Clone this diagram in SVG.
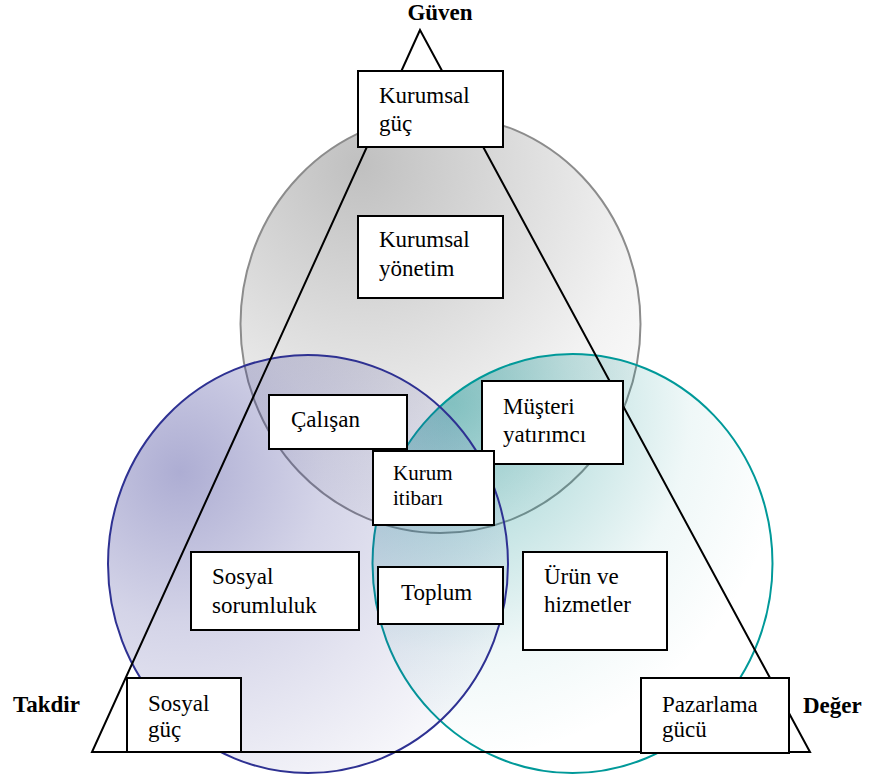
<svg xmlns="http://www.w3.org/2000/svg" width="869" height="780" viewBox="0 0 869 780">
<defs>
<radialGradient id="gGray" cx="0.3" cy="0.12" r="1.0" fx="0.3" fy="0.12">
<stop offset="0" stop-color="#c0c0c0"/>
<stop offset="0.35" stop-color="#d9d9d9"/>
<stop offset="0.7" stop-color="#f2f2f2"/>
<stop offset="1" stop-color="#ffffff"/>
</radialGradient>
<radialGradient id="gTeal" cx="0.2" cy="0.12" r="0.85" fx="0.2" fy="0.12">
<stop offset="0" stop-color="#1a9595" stop-opacity="0.5"/>
<stop offset="0.35" stop-color="#1a9595" stop-opacity="0.27"/>
<stop offset="0.7" stop-color="#1a9595" stop-opacity="0.07"/>
<stop offset="1" stop-color="#1a9595" stop-opacity="0"/>
</radialGradient>
<radialGradient id="gBlue" cx="0.18" cy="0.28" r="0.9" fx="0.18" fy="0.28">
<stop offset="0" stop-color="#3c3c96" stop-opacity="0.42"/>
<stop offset="0.4" stop-color="#3c3c96" stop-opacity="0.22"/>
<stop offset="1" stop-color="#3c3c96" stop-opacity="0.03"/>
</radialGradient>
<style>
.box{fill:#ffffff;stroke:#000000;stroke-width:2}
.t{font-family:"Liberation Serif","Times New Roman",serif;font-size:23px;fill:#000000}
.s{font-size:21px}
.b{font-family:"Liberation Serif","Times New Roman",serif;font-size:23px;font-weight:bold;fill:#000000}
</style>
</defs>
<g id="circles">
<ellipse id="circle-gray" cx="440.5" cy="324" rx="200" ry="209" fill="url(#gGray)" stroke="#8c8c8c" stroke-width="2"/>
<ellipse id="circle-teal" cx="572.5" cy="563.5" rx="200" ry="209.5" fill="url(#gTeal)" stroke="#009999" stroke-width="2"/>
<ellipse id="circle-blue" cx="308" cy="564" rx="200" ry="209" fill="url(#gBlue)" stroke="#2e3192" stroke-width="2"/>
</g>
<g id="connectors">
<polygon points="420,30 92,752 810,752" fill="none" stroke="#000000" stroke-width="2"/>
</g>
<g id="label-guven"><text class="b" x="440" y="20" text-anchor="middle">Güven</text></g>
<g id="label-takdir"><text class="b" x="13" y="712">Takdir</text></g>
<g id="label-deger"><text class="b" x="803" y="713">Değer</text></g>
<g id="kurumsal-guc"><rect class="box" x="358" y="71" width="145" height="76"/><text class="t" x="379" y="103">Kurumsal</text><text class="t" x="379" y="131">güç</text></g>
<g id="kurumsal-yonetim"><rect class="box" x="358" y="216" width="145" height="82"/><text class="t" x="379" y="247">Kurumsal</text><text class="t" x="379" y="276">yönetim</text></g>
<g id="calisan"><rect class="box" x="269" y="395" width="138" height="54"/><text class="t" x="291" y="427">Çalışan</text></g>
<g id="musteri"><rect class="box" x="482" y="381" width="141" height="83"/><text class="t" x="503" y="414">Müşteri</text><text class="t" x="503" y="442">yatırımcı</text></g>
<g id="kurum-itibari"><rect class="box" x="373" y="451" width="121" height="74"/><text class="t s" x="393" y="480">Kurum</text><text class="t s" x="393" y="505">itibarı</text></g>
<g id="sosyal-sorumluluk"><rect class="box" x="191" y="552" width="168" height="78"/><text class="t" x="212" y="584">Sosyal</text><text class="t" x="212" y="613">sorumluluk</text></g>
<g id="toplum"><rect class="box" x="378" y="567" width="125" height="57"/><text class="t" x="401" y="600">Toplum</text></g>
<g id="urun"><rect class="box" x="523" y="552" width="144" height="98"/><text class="t" x="544" y="584">Ürün ve</text><text class="t" x="544" y="612">hizmetler</text></g>
<g id="sosyal-guc"><rect class="box" x="127" y="678" width="114" height="74"/><text class="t" x="148" y="711">Sosyal</text><text class="t" x="148" y="737">güç</text></g>
<g id="pazarlama-gucu"><rect class="box" x="641" y="678" width="148" height="75"/><text class="t" x="662" y="712">Pazarlama</text><text class="t" x="662" y="737">gücü</text></g>
</svg>
